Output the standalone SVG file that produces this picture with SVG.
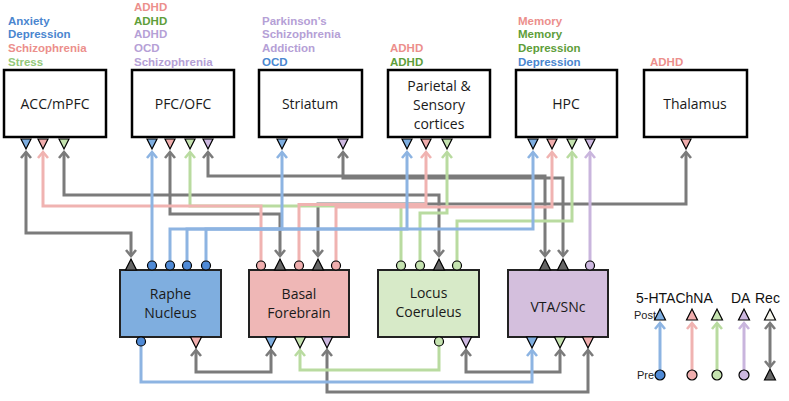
<svg xmlns="http://www.w3.org/2000/svg" width="789" height="401" viewBox="0 0 789 401">
<style>
.bg{fill:#fff}
.box{fill:#fff;stroke:#000;stroke-width:2.5}
.nb{stroke:#222;stroke-width:2}
.lbl{font-family:"Open Sans","Noto Sans",sans-serif;font-size:14px;fill:#1a1a1a;text-anchor:middle}
.dz{font-family:"Liberation Sans",Arial,sans-serif;font-weight:bold;font-size:11.5px}
.tb{fill:#4a86cf}.tp{fill:#ec8f8c}.tg{fill:#5e9e3a}.tgl{fill:#93c87a}.td{fill:#b5a0d6}
.mk{stroke:#000;stroke-width:1.2}
.fb{fill:#7eaee0}.fp{fill:#f0aeae}.fg{fill:#c5e3b0}.fd{fill:#cdb8e0}.fk{fill:#666}.fw{fill:#f6f6ee}
.cb{fill:#4f8ad6}
.ln{fill:none;stroke-width:3}
.g{stroke:#7b7b7b;marker-start:url(#ag);marker-end:url(#ag)}
.b{stroke:#8db4e2;marker-end:url(#ab)}
.p{stroke:#f0b3b1;marker-end:url(#ap)}
.n{stroke:#b9dba0;marker-end:url(#an)}
.d{stroke:#c9b5dd;marker-end:url(#ad)}
.leg{font-family:"Liberation Sans",Arial,sans-serif;font-size:11px;fill:#222}
.legh{font-family:"Liberation Sans",Arial,sans-serif;font-size:14px;fill:#111}
</style>
<defs>
<marker id="ag" markerUnits="userSpaceOnUse" markerWidth="14" markerHeight="14" viewBox="0 0 14 14" refX="11" refY="7" orient="auto-start-reverse"><path d="M5,2 L11,7 L5,12" fill="none" stroke="#7b7b7b" stroke-width="2.6"/></marker>
<marker id="ab" markerUnits="userSpaceOnUse" markerWidth="14" markerHeight="14" viewBox="0 0 14 14" refX="11" refY="7" orient="auto"><path d="M5,2 L11,7 L5,12" fill="none" stroke="#8db4e2" stroke-width="2.6"/></marker>
<marker id="ap" markerUnits="userSpaceOnUse" markerWidth="14" markerHeight="14" viewBox="0 0 14 14" refX="11" refY="7" orient="auto"><path d="M5,2 L11,7 L5,12" fill="none" stroke="#f0b3b1" stroke-width="2.6"/></marker>
<marker id="an" markerUnits="userSpaceOnUse" markerWidth="14" markerHeight="14" viewBox="0 0 14 14" refX="11" refY="7" orient="auto"><path d="M5,2 L11,7 L5,12" fill="none" stroke="#b9dba0" stroke-width="2.6"/></marker>
<marker id="ad" markerUnits="userSpaceOnUse" markerWidth="14" markerHeight="14" viewBox="0 0 14 14" refX="11" refY="7" orient="auto"><path d="M5,2 L11,7 L5,12" fill="none" stroke="#c9b5dd" stroke-width="2.6"/></marker>
</defs>
<rect class="bg" x="0" y="0" width="789" height="401"/>

<g id="connectors">
<path class="ln g" d="M26,152 V233 H131 V256"/>
<path class="ln g" d="M64,152 V195 H439 V256"/>
<path class="ln g" d="M170,152 V214 H280 V256"/>
<path class="ln g" d="M208,152 V176 H545 V256"/>
<path class="ln g" d="M343,152 V178 H563 V256"/>
<path class="ln g" d="M686,152 V204 H318 V256"/>
<path class="ln g" d="M196,350 V372 H271 V350"/>
<path class="ln g" d="M327,350 V392 H588 V350"/>
<path class="ln g" d="M466,350 V372 H560 V350"/>
<path class="ln n" d="M401,261 V206 H190 V152"/>
<path class="ln n" d="M420,261 V213 H447 V152"/>
<path class="ln n" d="M457,261 V221 H572 V152"/>
<path class="ln n" d="M439,346 V370 H300 V350"/>
<path class="ln p" d="M261,261 V206 H43 V152"/>
<path class="ln p" d="M299,261 V204.5 H426 V152"/>
<path class="ln p" d="M336,261 V207 H552 V152"/>
<path class="ln b" d="M152,261 V152"/>
<path class="ln b" d="M170,261 V229 H282 V152"/>
<path class="ln b" d="M187,261 V229 H407 V152"/>
<path class="ln b" d="M206,261 V229 H533 V152"/>
<path class="ln b" d="M141,346 V382 H532 V350"/>
<path class="ln d" d="M590,261 V152"/>
</g>

<g id="acc">
<rect class="box" x="4" y="70" width="102" height="67"/>
<text class="lbl" x="55" y="109">ACC/mPFC</text>
<text class="dz tb" x="8" y="24.6">Anxiety</text>
<text class="dz tb" x="8" y="38.4">Depression</text>
<text class="dz tp" x="8" y="52.2">Schizophrenia</text>
<text class="dz tgl" x="8" y="66">Stress</text>
<polygon class="mk fb" points="21,139 31,139 26,149"/>
<polygon class="mk fp" points="38,139 48,139 43,149"/>
<polygon class="mk fg" points="59,139 69,139 64,149"/>
</g>

<g id="pfc">
<rect class="box" x="132" y="70" width="102" height="67"/>
<text class="lbl" x="183" y="109">PFC/OFC</text>
<text class="dz tp" x="134" y="10.8">ADHD</text>
<text class="dz tg" x="134" y="24.6">ADHD</text>
<text class="dz td" x="134" y="38.4">ADHD</text>
<text class="dz td" x="134" y="52.2">OCD</text>
<text class="dz td" x="134" y="66">Schizophrenia</text>
<polygon class="mk fb" points="147,139 157,139 152,149"/>
<polygon class="mk fp" points="165,139 175,139 170,149"/>
<polygon class="mk fg" points="185,139 195,139 190,149"/>
<polygon class="mk fd" points="203,139 213,139 208,149"/>
</g>

<g id="striatum">
<rect class="box" x="259" y="70" width="103" height="67"/>
<text class="lbl" x="310" y="109">Striatum</text>
<text class="dz td" x="262" y="24.6">Parkinson’s</text>
<text class="dz td" x="262" y="38.4">Schizophrenia</text>
<text class="dz td" x="262" y="52.2">Addiction</text>
<text class="dz tb" x="262" y="66">OCD</text>
<polygon class="mk fb" points="277,139 287,139 282,149"/>
<polygon class="mk fd" points="338,139 348,139 343,149"/>
</g>

<g id="parietal">
<rect class="box" x="388" y="70" width="102" height="67"/>
<text class="lbl" x="439" y="91">Parietal &amp;</text>
<text class="lbl" x="439" y="110">Sensory</text>
<text class="lbl" x="439" y="129">cortices</text>
<text class="dz tp" x="390" y="52.2">ADHD</text>
<text class="dz tg" x="390" y="66">ADHD</text>
<polygon class="mk fb" points="402,139 412,139 407,149"/>
<polygon class="mk fp" points="421,139 431,139 426,149"/>
<polygon class="mk fg" points="442,139 452,139 447,149"/>
</g>

<g id="hpc">
<rect class="box" x="516" y="70" width="101" height="67"/>
<text class="lbl" x="566" y="109">HPC</text>
<text class="dz tp" x="518" y="24.6">Memory</text>
<text class="dz tg" x="518" y="38.4">Memory</text>
<text class="dz tg" x="518" y="52.2">Depression</text>
<text class="dz tb" x="518" y="66">Depression</text>
<polygon class="mk fb" points="528,139 538,139 533,149"/>
<polygon class="mk fp" points="547,139 557,139 552,149"/>
<polygon class="mk fg" points="567,139 577,139 572,149"/>
<polygon class="mk fd" points="585,139 595,139 590,149"/>
</g>

<g id="thalamus">
<rect class="box" x="644" y="70" width="103" height="67"/>
<text class="lbl" x="695" y="109">Thalamus</text>
<text class="dz tp" x="650" y="66">ADHD</text>
<polygon class="mk fp" points="681,139 691,139 686,149"/>
</g>

<g id="raphe">
<rect class="nb" x="120" y="270" width="101" height="67" fill="#7faedf"/>
<text class="lbl" x="170.5" y="299">Raphe</text>
<text class="lbl" x="170.5" y="318">Nucleus</text>
<polygon class="mk fk" points="125.5,270 136.5,270 131,259"/>
<circle class="mk cb" cx="152" cy="265.5" r="4.5"/>
<circle class="mk cb" cx="170" cy="265.5" r="4.5"/>
<circle class="mk cb" cx="187" cy="265.5" r="4.5"/>
<circle class="mk cb" cx="206" cy="265.5" r="4.5"/>
<circle class="mk cb" cx="141" cy="341.5" r="4.5"/>
<polygon class="mk fp" points="190.5,337 201.5,337 196,348"/>
</g>

<g id="basal">
<rect class="nb" x="249" y="270" width="100" height="67" fill="#efb7b6"/>
<text class="lbl" x="299" y="299">Basal</text>
<text class="lbl" x="299" y="318">Forebrain</text>
<circle class="mk fp" cx="261" cy="265.5" r="4.5"/>
<polygon class="mk fk" points="274.5,270 285.5,270 280,259"/>
<circle class="mk fp" cx="299" cy="265.5" r="4.5"/>
<polygon class="mk fk" points="312.5,270 323.5,270 318,259"/>
<circle class="mk fp" cx="336" cy="265.5" r="4.5"/>
<polygon class="mk fb" points="265.5,337 276.5,337 271,348"/>
<polygon class="mk fg" points="294.5,337 305.5,337 300,348"/>
<polygon class="mk fd" points="321.5,337 332.5,337 327,348"/>
</g>

<g id="locus">
<rect class="nb" x="378" y="270" width="101" height="67" fill="#d7eac8"/>
<text class="lbl" x="428.5" y="298">Locus</text>
<text class="lbl" x="428.5" y="317">Coeruleus</text>
<circle class="mk fg" cx="401" cy="265.5" r="4.5"/>
<circle class="mk fg" cx="420" cy="265.5" r="4.5"/>
<polygon class="mk fk" points="433.5,270 444.5,270 439,259"/>
<circle class="mk fg" cx="457" cy="265.5" r="4.5"/>
<circle class="mk fg" cx="439" cy="341.5" r="4.5"/>
<polygon class="mk fd" points="460.5,337 471.5,337 466,348"/>
</g>

<g id="vta">
<rect class="nb" x="508" y="270" width="100" height="67" fill="#d4bfdd"/>
<text class="lbl" x="558" y="312">VTA/SNc</text>
<polygon class="mk fk" points="539.5,270 550.5,270 545,259"/>
<polygon class="mk fk" points="557.5,270 568.5,270 563,259"/>
<circle class="mk fd" cx="590" cy="265.5" r="4.5"/>
<polygon class="mk fb" points="526.5,337 537.5,337 532,348"/>
<polygon class="mk fg" points="554.5,337 565.5,337 560,348"/>
<polygon class="mk fp" points="582.5,337 593.5,337 588,348"/>
</g>

<g id="legend">
<text class="legh" x="636" y="303">5-HTAChNA</text>
<text class="legh" x="731" y="303">DA</text>
<text class="legh" x="755" y="303">Rec</text>
<text class="leg" x="634" y="319">Post</text>
<text class="leg" x="637" y="379">Pre</text>
<path class="ln b" stroke-width="2.5" d="M660,370 V323"/>
<path class="ln p" stroke-width="2.5" d="M692,370 V323"/>
<path class="ln n" stroke-width="2.5" d="M717,370 V323"/>
<path class="ln d" stroke-width="2.5" d="M744,370 V323"/>
<path class="ln g" stroke-width="2.5" d="M770,323 V367"/>
<polygon class="mk fb" points="654.5,320 665.5,320 660,309"/>
<polygon class="mk fp" points="686.5,320 697.5,320 692,309"/>
<polygon class="mk fg" points="711.5,320 722.5,320 717,309"/>
<polygon class="mk fd" points="738.5,320 749.5,320 744,309"/>
<polygon class="mk fw" points="764.5,320 775.5,320 770,309"/>
<circle class="mk cb" cx="660" cy="375" r="5"/>
<circle class="mk fp" cx="692" cy="375" r="5"/>
<circle class="mk fg" cx="717" cy="375" r="5"/>
<circle class="mk fd" cx="744" cy="375" r="5"/>
<polygon class="mk fk" points="764.5,380 775.5,380 770,369"/>
</g>
</svg>
